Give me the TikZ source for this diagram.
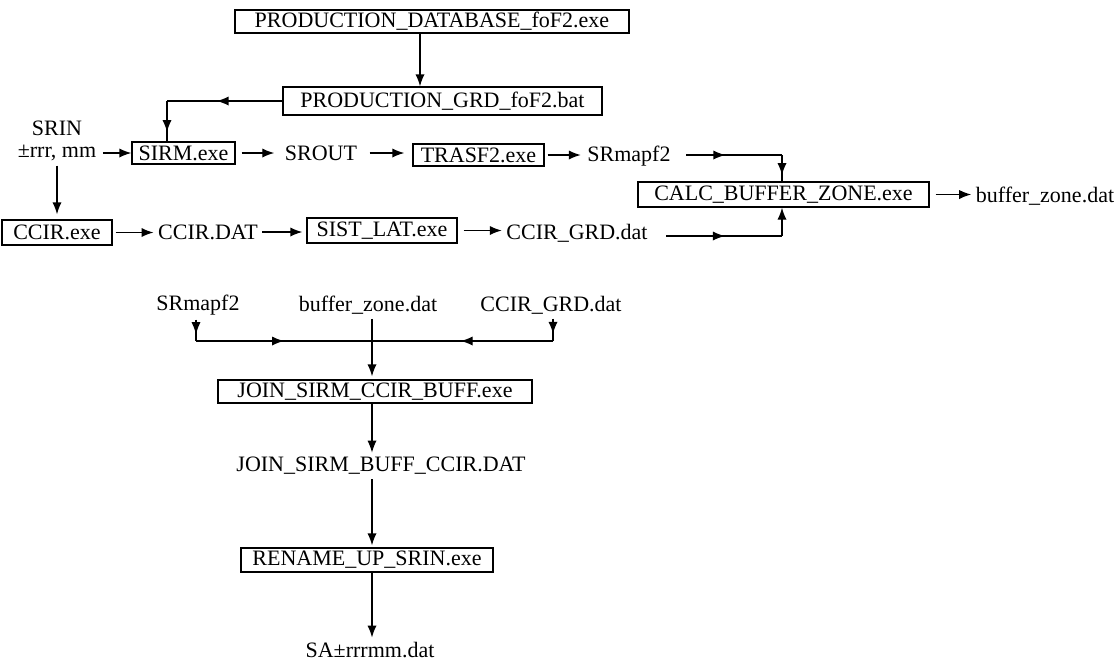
\documentclass[tikz,border=0pt]{standalone}
\usepackage{fontspec}
\setmainfont{Liberation Serif}
\usetikzlibrary{arrows.meta,decorations.markings}
\begin{document}
\begin{tikzpicture}[x=0.5pt,y=-0.5pt,
  font=\fontsize{11}{13}\selectfont, line width=0.65pt,
  box/.style={draw, inner sep=1pt, minimum height=11.5pt},
  txt/.style={inner sep=2pt},
  tip/.style={-{Latex[length=6pt,width=4.6pt]}},
  arrowat/.style={decoration={markings, mark=at position #1 with {\arrow{Latex[length=6pt,width=4.6pt]}}}, postaction={decorate}}]
\useasboundingbox (0,0) rectangle (1120,661);

% top part
\node[box, minimum width=197pt] (db) at (432,21.5) {PRODUCTION\_DATABASE\_foF2.exe};
\node[box, minimum width=159.5pt, minimum height=14pt] (grd) at (442.5,101) {PRODUCTION\_GRD\_foF2.bat};
\node[txt] (srin) at (57,128) {SRIN};
\node[txt] (srin2) at (57,153) {±rrr, mm};
\node[box, minimum width=51.5pt, minimum height=11pt] (sirm) at (183.5,153) {SIRM.exe};
\node[txt] (srout) at (321,153) {SROUT};
\node[box, minimum width=65.5pt, minimum height=11pt] (trasf) at (478.5,155) {TRASF2.exe};
\node[txt] (srmap) at (629,156) {SRmapf2};
\node[box, minimum width=145.5pt, minimum height=12.5pt] (calc) at (783.5,194.5) {CALC\_BUFFER\_ZONE.exe};
\node[txt] (buf) at (1045,196) {buffer\_zone.dat};
\node[box, minimum width=55pt, minimum height=12.5pt] (ccir) at (57,232.5) {CCIR.exe};
\node[txt] (ccirdat) at (208,232) {CCIR.DAT};
\node[box, minimum width=75pt, minimum height=12.5pt] (sist) at (382,230.5) {SIST\_LAT.exe};
\node[txt] (ccirgrd) at (577,233) {CCIR\_GRD.dat};

\coordinate (dbx) at (420,0);
\coordinate (g1) at (167,101);
\coordinate (cu) at (782,155);
\coordinate (cd) at (782,236);

\draw[tip] (db.south -| dbx) -- (grd.north -| dbx);
\draw[arrowat=0.57] (grd.west) -- (grd.west -| g1);
\draw[arrowat=0.77] (grd.west -| g1) -- (g1 |- sirm.north);
\draw[tip, shorten <=1pt] (srin2.east) -- (sirm.west);
\draw[tip, shorten >=2.5pt] (srin2.south) -- (ccir.north);
\draw[tip, shorten <=3pt, shorten >=3pt] (sirm.east) -- (srout.west);
\draw[tip, shorten <=4pt, shorten >=4pt] (srout.east) -- (srout.east -| trasf.west);
\draw[tip, shorten <=1.5pt, shorten >=1pt] (trasf.east) -- (trasf.east -| srmap.west);
\draw[arrowat=0.47, shorten <=5.5pt] (srmap.east |- cu) -- (cu);
\draw[arrowat=0.76] (cu) -- (cu |- calc.north);
\draw[tip, shorten <=3pt] (calc.east) -- (calc.east -| buf.west);
\draw[tip, shorten <=1.5pt] (ccir.east) -- (ccir.east -| ccirdat.west);
\draw[tip, shorten >=2pt] (ccirdat.east) -- (ccirdat.east -| sist.west);
\draw[tip, shorten <=3pt] (sist.east) -- (sist.east -| ccirgrd.west);
\draw[arrowat=0.56, shorten <=7pt] (ccirgrd.east |- cd) -- (cd);
\draw[tip] (cd) -- (cd |- calc.south);

% bottom part
\node[txt] (bsr) at (198,305) {SRmapf2};
\node[txt] (bbuf) at (368,305) {buffer\_zone.dat};
\node[txt] (bgrd) at (551,305) {CCIR\_GRD.dat};
\node[box, minimum width=157pt] (join) at (375,391.5) {JOIN\_SIRM\_CCIR\_BUFF.exe};
\node[txt] (jdat) at (381,466) {JOIN\_SIRM\_BUFF\_CCIR.DAT};
\node[box, minimum width=126pt, minimum height=12pt] (ren) at (367,560) {RENAME\_UP\_SRIN.exe};
\node[txt] (sa) at (370,650) {SA±rrrmm.dat};

\coordinate (j) at (372,341);
\coordinate (jl) at (196,341);
\coordinate (jr) at (553,341);

\draw[arrowat=0.68] (bsr.south -| jl) -- (jl);
\draw[arrowat=0.5] (jl) -- (j);
\draw[arrowat=0.68] (bgrd.south -| jr) -- (jr);
\draw[arrowat=0.51] (jr) -- (j);
\draw[tip, shorten >=1.5pt] (bbuf.south -| j) -- (j |- join.north);
\draw[tip] (join.south -| j) -- (j |- jdat.north);
\draw[tip, shorten >=1pt] (jdat.south -| j) -- (j |- ren.north);
\draw[tip] (ren.south -| j) -- (j |- sa.north);
\end{tikzpicture}
\end{document}
